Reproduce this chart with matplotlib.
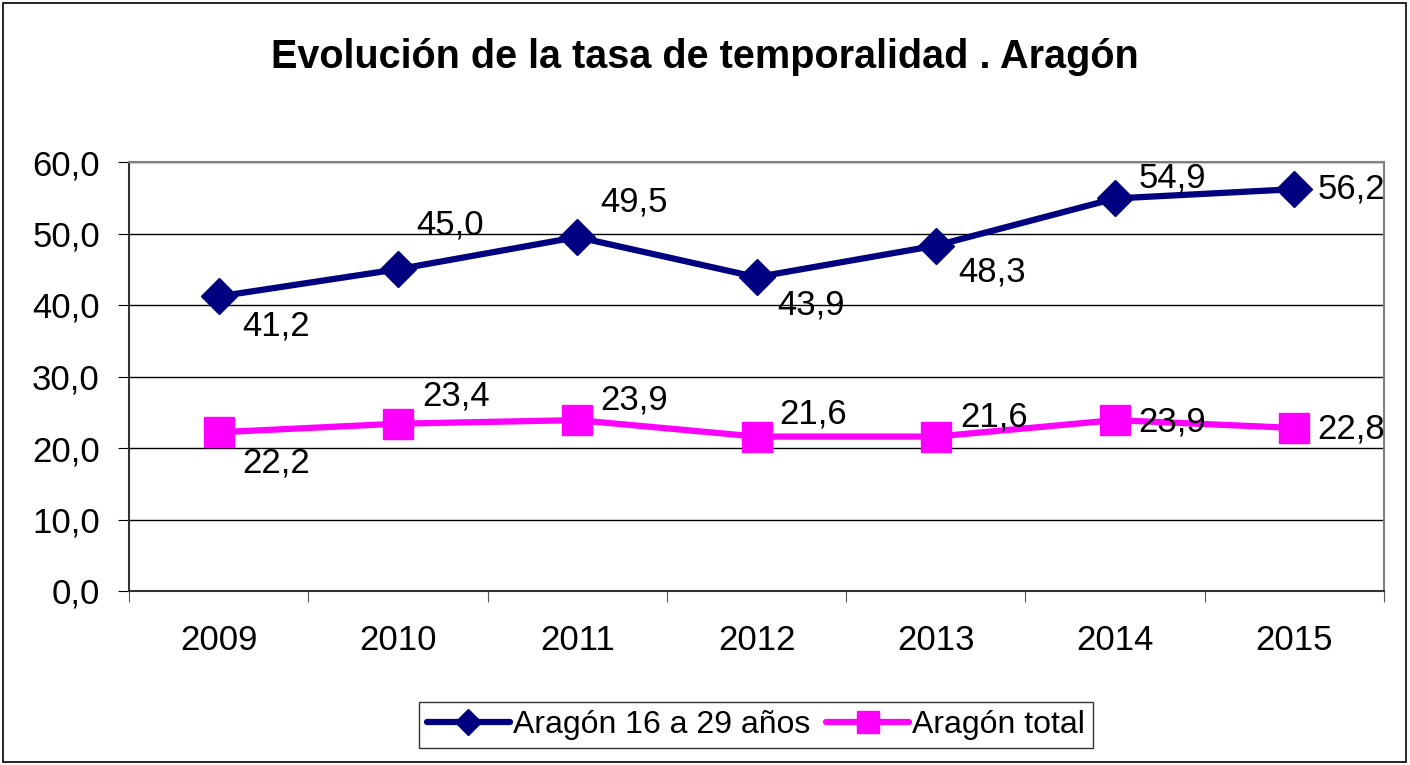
import matplotlib.pyplot as plt
from matplotlib.patches import Rectangle

plt.rcParams["font.family"] = ["Liberation Sans", "DejaVu Sans"]

years = ["2009", "2010", "2011", "2012", "2013", "2014", "2015"]
jovenes = [41.2, 45.0, 49.5, 43.9, 48.3, 54.9, 56.2]
total = [22.2, 23.4, 23.9, 21.6, 21.6, 23.9, 22.8]

# label offsets in pixels (x right, y up)
off_jov = [(57, -30), (52, 44), (57, 35), (55, -28), (56, -26), (57, 20), (57, 0)]
off_tot = [(57, -31), (58, 28), (57, 20), (57, 23), (58, 20), (57, -2), (57, -1)]

fig = plt.figure(figsize=(14.1, 7.65), dpi=100)
ax = fig.add_axes([129 / 1410, 174 / 765, 1255 / 1410, 429 / 765])

x = [i + 0.5 for i in range(len(years))]
ax.plot(x, jovenes, color="#000080", lw=4.5, marker="D", ms=18,
        label="Aragón 16 a 29 años", zorder=3)
ax.plot(x, total, color="#FF00FF", lw=4.5, marker="s", ms=21,
        label="Aragón total", zorder=3)

for xi, v, off in zip(x, jovenes, off_jov):
    ax.annotate(f"{v:.1f}".replace(".", ","), (xi, v), xytext=off,
                textcoords="offset pixels", ha="center", va="center",
                fontsize=25, zorder=4)
for xi, v, off in zip(x, total, off_tot):
    ax.annotate(f"{v:.1f}".replace(".", ","), (xi, v), xytext=off,
                textcoords="offset pixels", ha="center", va="center",
                fontsize=25, zorder=4)

ax.set_xlim(0, 7)
ax.set_ylim(0, 60)
ax.set_yticks(range(0, 61, 10))
ax.set_yticklabels([f"{v},0" for v in range(0, 61, 10)], fontsize=25)
ax.yaxis.grid(True, color="black", lw=1)
ax.set_axisbelow(True)
ax.tick_params(axis="y", length=8, pad=13, color="black")

ax.set_xticks(range(0, 8))
ax.set_xticklabels([])
ax.set_xticks(x, minor=True)
ax.set_xticklabels(years, minor=True, fontsize=25)
ax.tick_params(axis="x", which="major", length=8, color="#555555")
ax.tick_params(axis="x", which="minor", length=0, pad=24)

for s in ["top", "right"]:
    ax.spines[s].set_color("#808080")
    ax.spines[s].set_linewidth(1.5)
for s in ["left", "bottom"]:
    ax.spines[s].set_color("#333333")
    ax.spines[s].set_linewidth(1.5)

fig.text(705 / 1410, 1 - 57 / 765, "Evolución de la tasa de temporalidad . Aragón",
         ha="center", va="center", fontsize=28.5, fontweight="bold")

leg = fig.legend(loc="center", bbox_to_anchor=(756 / 1410, 1 - 725 / 765),
                 ncol=2, fontsize=23, frameon=True, fancybox=False,
                 edgecolor="black", handlelength=2.6, handletextpad=0.1,
                 columnspacing=0.5, borderpad=0.25, markerscale=0.75)
leg.get_frame().set_linewidth(1)
for h in leg.get_lines():
    h.set_solid_capstyle("round")

fig.patches.append(Rectangle((3 / 1410, 3 / 765), 1403 / 1410, 759 / 765,
                             transform=fig.transFigure, fill=False,
                             edgecolor="black", lw=1.2))

fig.savefig("out.png", dpi=100)
